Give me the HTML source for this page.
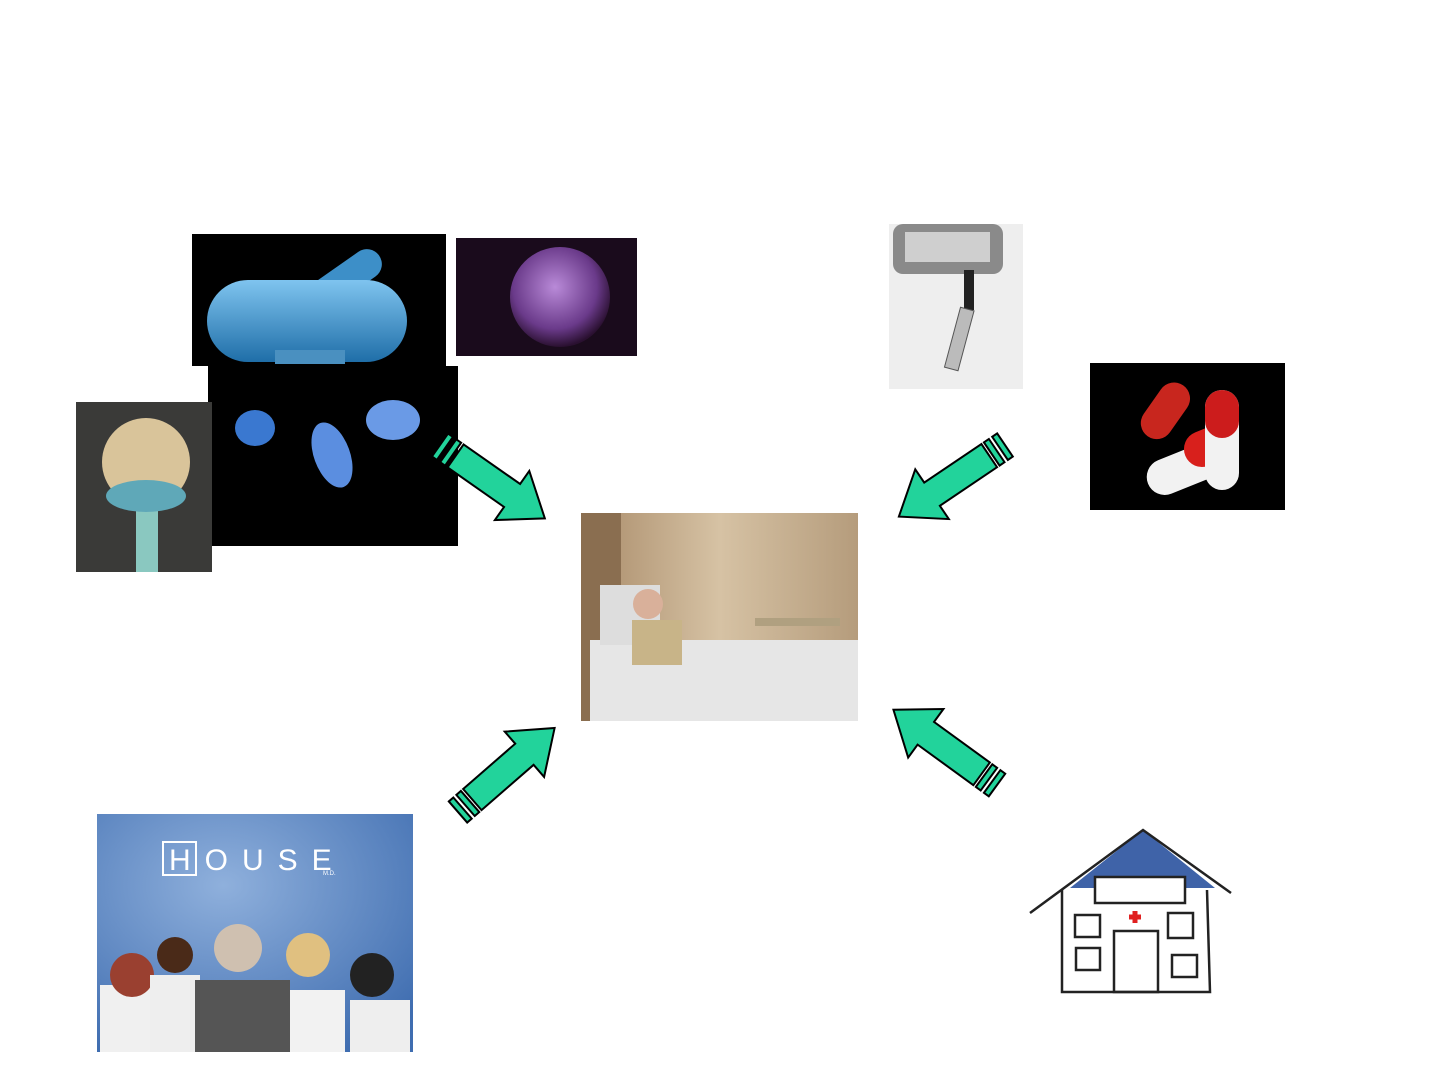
<!DOCTYPE html>
<html><head><style>
body{margin:0;width:1440px;height:1080px;background:#fff;overflow:hidden;font-family:"Liberation Sans",sans-serif}
</style></head><body>
<svg width="1440" height="1080" viewBox="0 0 1440 1080" xmlns="http://www.w3.org/2000/svg">
<defs>
<radialGradient id="vir" cx="0.45" cy="0.4" r="0.6"><stop offset="0" stop-color="#b98ad8"/><stop offset="0.7" stop-color="#6a3a8a"/><stop offset="1" stop-color="#2a1030"/></radialGradient>
<linearGradient id="bac" x1="0" y1="0" x2="0" y2="1"><stop offset="0" stop-color="#7fc4ef"/><stop offset="1" stop-color="#1f6ea8"/></linearGradient>
<radialGradient id="hs" cx="0.4" cy="0.3" r="0.8"><stop offset="0" stop-color="#8fb0dc"/><stop offset="1" stop-color="#3f6db0"/></radialGradient>
<linearGradient id="room" x1="0" y1="0" x2="1" y2="0"><stop offset="0" stop-color="#a88a68"/><stop offset="0.5" stop-color="#d6c2a4"/><stop offset="1" stop-color="#b59c7c"/></linearGradient>
<g id="arr"><path d="M19,-14 L88,-14 L88,-30 L128,0 L88,30 L88,14 L19,14 Z M0,-14 L6,-14 L6,14 L0,14 Z M10,-14 L16,-14 L16,14 L10,14 Z" fill="#22d39b" stroke="#000" stroke-width="2" stroke-linejoin="miter"/></g>
</defs>
<rect x="192" y="234" width="254" height="132" fill="#000"/>
<rect x="270" y="275" width="120" height="30" rx="15" fill="#3d8fc8" transform="rotate(-35 330 290)"/>
<rect x="207" y="280" width="200" height="82" rx="41" fill="url(#bac)"/>
<rect x="275" y="350" width="70" height="14" fill="#4a90c0"/>
<rect x="456" y="238" width="181" height="118" fill="#1a0b1c"/>
<circle cx="560" cy="297" r="50" fill="url(#vir)"/>
<rect x="208" y="366" width="250" height="180" fill="#000"/>
<ellipse cx="255" cy="428" rx="20" ry="18" fill="#3a78d0"/>
<ellipse cx="332" cy="455" rx="18" ry="34" fill="#5b8ee0" transform="rotate(-20 332 455)"/>
<ellipse cx="393" cy="420" rx="27" ry="20" fill="#6a9ae6"/>
<rect x="76" y="402" width="136" height="170" fill="#3a3a38"/>
<rect x="136" y="485" width="22" height="87" fill="#8ac8c0"/>
<circle cx="146" cy="462" r="44" fill="#d9c49a"/>
<ellipse cx="146" cy="496" rx="40" ry="16" fill="#5fa8b8"/>
<rect x="889" y="224" width="134" height="165" fill="#eeeeee"/>
<rect x="893" y="224" width="110" height="50" rx="10" fill="#8a8a8a"/>
<rect x="905" y="232" width="85" height="30" fill="#cfcfcf"/>
<rect x="964" y="270" width="10" height="40" fill="#222"/>
<rect x="952" y="308" width="14" height="62" fill="#bbb" stroke="#555" transform="rotate(15 959 340)"/>
<rect x="1090" y="363" width="195" height="147" fill="#000"/>
<rect x="1145" y="450" width="85" height="36" rx="18" fill="#f2f2f2" transform="rotate(-22 1187 468)"/>
<rect x="1190" y="438" width="48" height="36" rx="18" fill="#d8201c" transform="rotate(-22 1187 468)"/>
<rect x="1205" y="390" width="34" height="100" rx="17" fill="#f2f2f2"/>
<rect x="1205" y="390" width="34" height="48" rx="17" fill="#cc1c1c"/>
<rect x="1150" y="380" width="32" height="62" rx="16" fill="#c8261e" transform="rotate(35 1166 410)"/>
<rect x="581" y="513" width="277" height="208" fill="url(#room)"/>
<rect x="581" y="513" width="40" height="208" fill="#8a6e50"/>
<rect x="590" y="640" width="268" height="81" fill="#e6e6e6"/>
<rect x="600" y="585" width="60" height="60" fill="#ddd"/>
<circle cx="648" cy="604" r="15" fill="#d9b09a"/>
<rect x="632" y="620" width="50" height="45" fill="#c8b488"/>
<rect x="755" y="618" width="85" height="8" fill="#b0a080"/>
<rect x="97" y="814" width="316" height="238" fill="url(#hs)"/>
<rect x="163" y="842" width="33" height="33" fill="none" stroke="#fff" stroke-width="2"/>
<text x="169" y="870" font-size="30" fill="#fff" font-family="Liberation Sans, sans-serif" letter-spacing="14">HOUSE</text>
<text x="323" y="875" font-size="6" fill="#fff">M.D.</text>
<rect x="100" y="985" width="70" height="67" fill="#f0f0f0"/><circle cx="132" cy="975" r="22" fill="#9a4030"/>
<rect x="150" y="975" width="50" height="77" fill="#eee"/><circle cx="175" cy="955" r="18" fill="#4a2a18"/>
<rect x="195" y="980" width="95" height="72" fill="#555"/><circle cx="238" cy="948" r="24" fill="#cfc0b0"/>
<rect x="290" y="990" width="55" height="62" fill="#f2f2f2"/><circle cx="308" cy="955" r="22" fill="#e0c080"/>
<rect x="350" y="1000" width="60" height="52" fill="#eee"/><circle cx="372" cy="975" r="22" fill="#222"/>
<path d="M1143,830 L1215,888 L1070,888 Z" fill="#3f63a8"/>
<path d="M1030,913 L1143,830 L1231,893" fill="none" stroke="#222" stroke-width="2.5"/>
<path d="M1062,890 L1062,992 L1210,992 L1207,890" fill="none" stroke="#222" stroke-width="2.5"/>
<rect x="1095" y="877" width="90" height="26" fill="#fff" stroke="#222" stroke-width="2.5"/>
<rect x="1114" y="931" width="44" height="61" fill="none" stroke="#222" stroke-width="2.5"/>
<rect x="1075" y="915" width="25" height="22" fill="none" stroke="#222" stroke-width="2.5"/>
<rect x="1168" y="913" width="25" height="25" fill="none" stroke="#222" stroke-width="2.5"/>
<rect x="1076" y="948" width="24" height="22" fill="none" stroke="#222" stroke-width="2.5"/>
<rect x="1172" y="955" width="25" height="22" fill="none" stroke="#222" stroke-width="2.5"/>
<path d="M1135,911 v12 M1129,917 h12" stroke="#e02020" stroke-width="5"/>
<use href="#arr" transform="translate(440,445) rotate(35)"/>
<use href="#arr" transform="translate(1005,445) rotate(146)"/>
<use href="#arr" transform="translate(458,812) rotate(-41)"/>
<use href="#arr" transform="translate(997,785) rotate(216)"/>
</svg>
</body></html>
